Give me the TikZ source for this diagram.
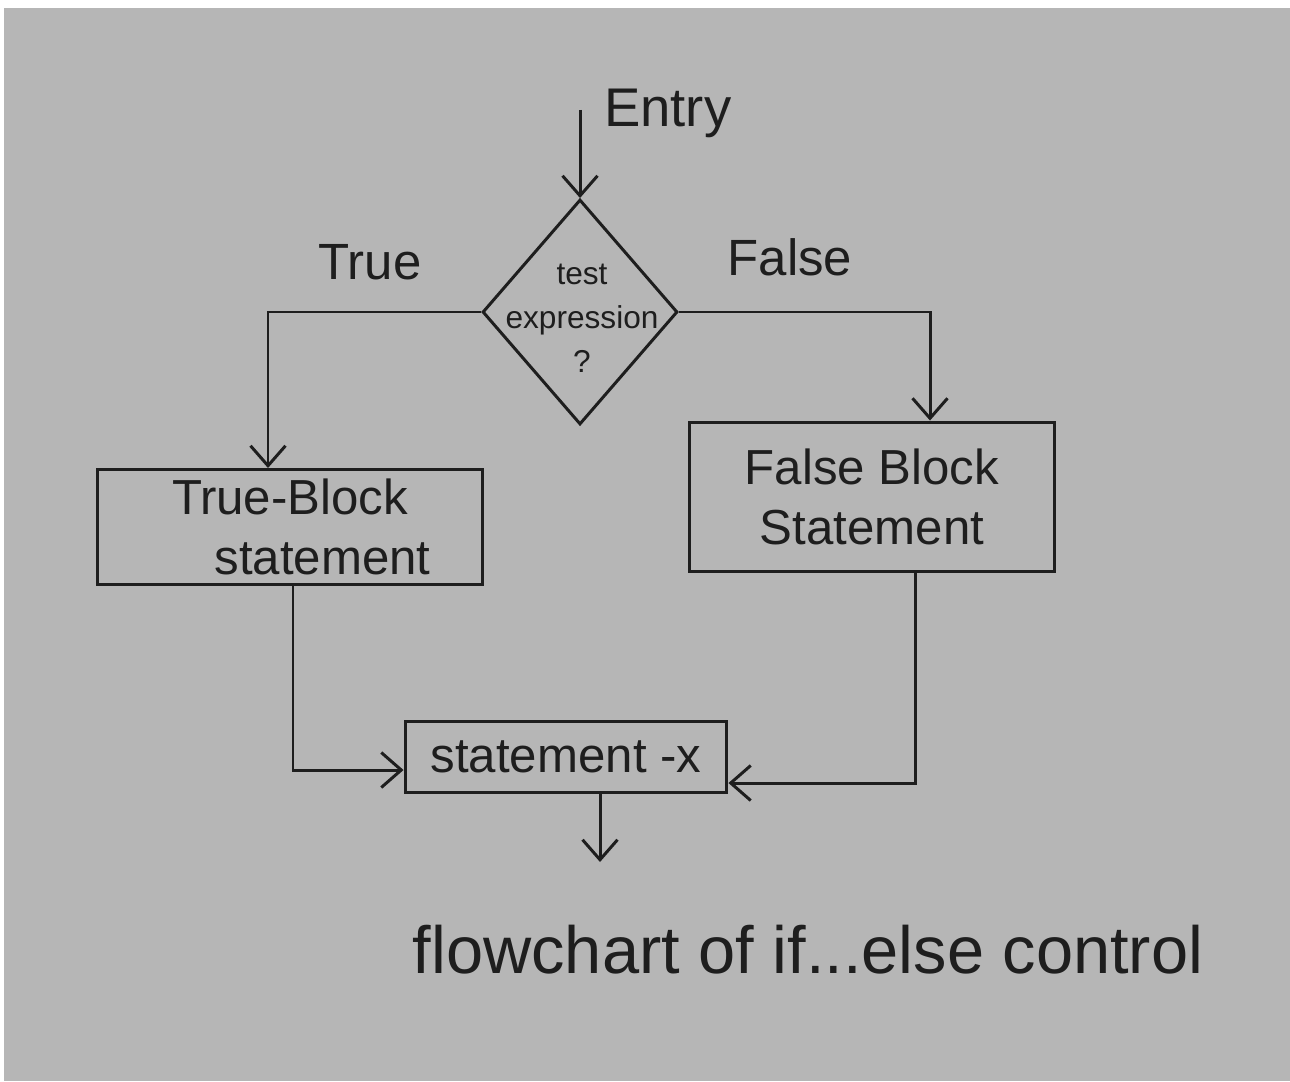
\documentclass[tikz,border=0pt]{standalone}
\usepackage{fontspec}
\setmainfont{Liberation Sans}
\usetikzlibrary{shapes.geometric,arrows.meta}
\definecolor{paper}{HTML}{B6B6B6}
\definecolor{ink}{HTML}{1E1E1E}
\tikzset{
  box/.style={draw=ink, line width=1.7pt, rectangle, inner sep=0pt, align=center, text=ink, font=\fontsize{28}{34}\selectfont},
  dec/.style={draw=ink, line width=1.7pt, diamond, inner sep=0pt},
  lbl/.style={text=ink, font=\fontsize{29}{32}\selectfont},
  flow/.style={draw=ink, line width=1.7pt, -{Straight Barb[length=4mm,width=7mm,line width=1.7pt]}},
  line/.style={draw=ink, line width=1.7pt}
}
\begin{document}
\begin{tikzpicture}[x=0.02cm,y=-0.02cm]
\useasboundingbox (0,0) rectangle (1290,1081);
\fill[white] (0,0) rectangle (1290,1081);
\fill[paper] (4,8) rectangle (1290,1081);
% nodes
\node[dec, minimum width=3.9cm, minimum height=4.5cm] (dia) at (580,312) {};
\node[text=ink, align=center, font=\fontsize{18}{25}\selectfont] (diatxt) at (582,318) {test\\expression\\?};
\node[box, minimum width=7.72cm, minimum height=2.3cm] (tb) at (290,527) {True-Block\\\hspace*{1.3cm}statement};
\node[box, minimum width=7.3cm, minimum height=3cm] (fb) at (872,497) {False Block\\Statement};
\node[box, minimum width=6.44cm, minimum height=1.42cm] (sx) at (566,757) {statement -x};
\node[lbl, anchor=west, font=\fontsize{31}{34}\selectfont] (entrylbl) at (598,113) {Entry};
\node[lbl] (truelbl) at (370,262) {True};
\node[lbl] (falselbl) at (790,257) {False};
\node[text=ink, font=\fontsize{38}{44}\selectfont] (caption) at (808,950) {flowchart of if...else control};
\coordinate (entry) at (580,110);
\coordinate (tl) at (268,312);
\coordinate (fr) at (930,312);
\coordinate (jl) at (293,770);
\coordinate (jr) at (915,783);
\coordinate (exit) at (600,862);
% connectors
\draw[flow] (entry) -- (dia.north);
\draw[flow] (dia.west) -- (tl) -- (tl |- tb.north);
\draw[flow] (dia.east) -- (fr) -- (fr |- fb.north);
\draw[flow] (jl |- tb.south) -- (jl) -- (jl -| sx.west);
\draw[flow] (jr |- fb.south) -- (jr) -- (jr -| sx.east);
\draw[flow] (sx.south -| exit) -- (exit);
\end{tikzpicture}
\end{document}
